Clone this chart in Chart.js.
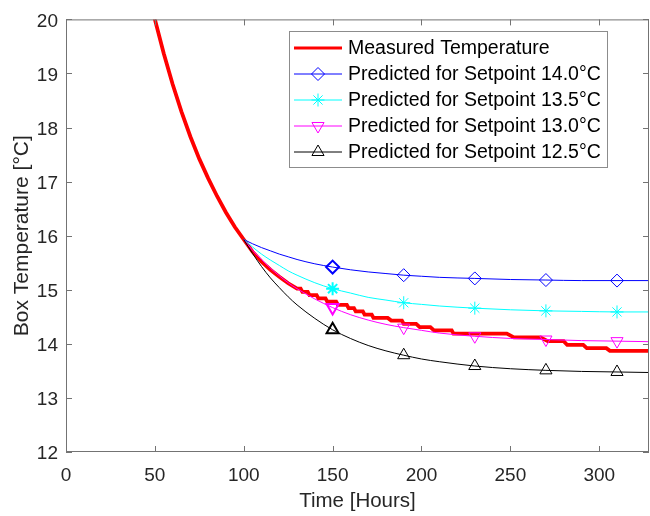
<!DOCTYPE html>
<html>
<head>
<meta charset="utf-8">
<script src="https://cdn.jsdelivr.net/npm/chart.js@4.4.1/dist/chart.umd.min.js"></script>
<style>
  html, body { margin: 0; padding: 0; background: #fff; }
  #wrap { width: 650px; height: 516px; position: relative; }
</style>
</head>
<body>
<div id="wrap"><canvas id="grafico_temperatura"></canvas></div>
<script>
// dados
const timeMeasured = [45, 50, 55, 60, 65, 70, 75, 80, 85, 90, 95, 100, 105, 110, 115, 120, 125, 130, 132, 133, 136, 137, 141, 142, 146, 147, 152, 153, 158, 159, 162, 163, 167, 168, 172, 173, 181, 183, 189, 190, 197, 199, 205, 207, 217, 218, 248, 252, 267, 271, 280, 282, 291, 293, 304, 306, 330];
const tempMeasured = [20.71, 20.00, 19.37, 18.80, 18.29, 17.83, 17.42, 17.06, 16.73, 16.43, 16.16, 15.93, 15.70, 15.52, 15.37, 15.24, 15.12, 15.02, 15.02, 14.96, 14.96, 14.90, 14.90, 14.84, 14.84, 14.78, 14.78, 14.72, 14.72, 14.66, 14.66, 14.60, 14.60, 14.54, 14.54, 14.48, 14.48, 14.43, 14.43, 14.37, 14.37, 14.31, 14.31, 14.25, 14.25, 14.19, 14.19, 14.12, 14.12, 14.05, 14.05, 13.98, 13.98, 13.92, 13.92, 13.87, 13.87];

const timePredicted = [100, 105, 110, 115, 120, 125, 130, 140, 150, 160, 170, 180, 190, 200, 210, 230, 250, 270, 290, 310, 328];
const pred140 = [15.93, 15.85, 15.78, 15.72, 15.66, 15.61, 15.56, 15.48, 15.42, 15.37, 15.33, 15.30, 15.27, 15.25, 15.23, 15.21, 15.19, 15.18, 15.17, 15.17, 15.17];
const pred135 = [15.93, 15.79, 15.66, 15.55, 15.45, 15.35, 15.27, 15.13, 15.02, 14.94, 14.86, 14.81, 14.76, 14.73, 14.70, 14.66, 14.63, 14.61, 14.60, 14.59, 14.59];
const pred130 = [15.93, 15.73, 15.56, 15.40, 15.26, 15.13, 15.02, 14.83, 14.67, 14.54, 14.44, 14.36, 14.30, 14.25, 14.20, 14.14, 14.10, 14.08, 14.06, 14.05, 14.04];
const pred125 = [15.93, 15.67, 15.43, 15.22, 15.04, 14.87, 14.72, 14.47, 14.26, 14.10, 13.97, 13.87, 13.79, 13.72, 13.67, 13.59, 13.54, 13.51, 13.49, 13.48, 13.47];

const markerTimes = [150, 190, 230, 270, 310];
const xTicks = [0, 50, 100, 150, 200, 250, 300];
const yTicks = [12, 13, 14, 15, 16, 17, 18, 19, 20];

const labels = ['Measured Temperature', 'Predicted for Setpoint 14.0°C', 'Predicted for Setpoint 13.5°C', 'Predicted for Setpoint 13.0°C', 'Predicted for Setpoint 12.5°C'];

const fonte = "'Liberation Sans', Arial, Helvetica, sans-serif";
const corTexto = '#262626';
const corEixo = '#737373';

const junta = (xs, ys) => xs.map((v, i) => ({x: v, y: ys[i]}));

const estilos = [
  {cor: '#ff0000', largura: 3.8, ponto: false},
  {cor: '#0000ff', largura: 1, ponto: 'rectRot', raio: 6.5, rot: 0},
  {cor: '#00ffff', largura: 1, ponto: 'star', raio: 6.5, rot: 0},
  {cor: '#ff00ff', largura: 1, ponto: 'triangle', raio: 7, rot: 180},
  {cor: '#000000', largura: 1, ponto: 'triangle', raio: 7, rot: 0}
];

const previstos = [pred140, pred135, pred130, pred125];

const datasets = [{
  label: labels[0],
  data: junta(timeMeasured, tempMeasured),
  borderColor: estilos[0].cor,
  borderWidth: estilos[0].largura,
  pointRadius: 0,
  tension: 0
}];

previstos.forEach((serie, k) => {
  const e = estilos[k + 1];
  datasets.unshift({
    label: labels[k + 1],
    data: junta(timePredicted, serie),
    borderColor: e.cor,
    borderWidth: e.largura,
    tension: 0.4,
    cubicInterpolationMode: 'monotone',
    pointStyle: e.ponto,
    pointRotation: e.rot,
    pointBorderColor: e.cor,
    pointBackgroundColor: 'rgba(0,0,0,0)',
    pointRadius: (ctx) => markerTimes.includes(timePredicted[ctx.dataIndex]) ? e.raio : 0,
    pointBorderWidth: (ctx) => timePredicted[ctx.dataIndex] === 150 ? 2 : 1,
    pointHoverRadius: 0
  });
});

// caixa dos eixos com ticks para dentro (estilo MATLAB)
const moldura = {
  id: 'moldura',
  afterDatasetsDraw(chart) {
    const {ctx, chartArea: a, scales: {x, y}} = chart;
    ctx.save();
    ctx.strokeStyle = corEixo;
    ctx.lineWidth = 1;
    ctx.strokeRect(a.left + 0.5, a.top + 0.5, a.right - a.left - 1, a.bottom - a.top - 1);
    ctx.beginPath();
    xTicks.forEach(v => {
      const px = Math.round(x.getPixelForValue(v)) + 0.5;
      ctx.moveTo(px, a.bottom); ctx.lineTo(px, a.bottom - 6);
      ctx.moveTo(px, a.top); ctx.lineTo(px, a.top + 6);
    });
    yTicks.forEach(v => {
      const py = Math.round(y.getPixelForValue(v)) + 0.5;
      ctx.moveTo(a.left, py); ctx.lineTo(a.left + 6, py);
      ctx.moveTo(a.right, py); ctx.lineTo(a.right - 6, py);
    });
    ctx.stroke();
    ctx.restore();
  }
};

function desenhaMarcador(ctx, e, x, y) {
  if (!e.ponto) return;
  const opts = {pointStyle: e.ponto, radius: e.raio, rotation: e.rot, borderWidth: 1};
  if (Chart.helpers && Chart.helpers.drawPoint) {
    Chart.helpers.drawPoint(ctx, opts, x, y);
  }
}

const legendaMatlab = {
  id: 'legendaMatlab',
  afterDraw(chart) {
    const ctx = chart.ctx;
    const box = {x: 289.5, y: 31.5, w: 318, h: 136};
    ctx.save();
    ctx.fillStyle = '#ffffff';
    ctx.fillRect(box.x, box.y, box.w, box.h);
    ctx.strokeStyle = '#8c8c8c';
    ctx.lineWidth = 1;
    ctx.strokeRect(box.x, box.y, box.w, box.h);
    ctx.font = '19.5px ' + fonte;
    ctx.textBaseline = 'middle';
    ctx.textAlign = 'left';
    labels.forEach((txt, i) => {
      const e = estilos[i];
      const yy = 48 + i * 26;
      ctx.strokeStyle = e.cor;
      ctx.lineWidth = i === 0 ? 3 : e.largura;
      ctx.beginPath();
      ctx.moveTo(294, yy); ctx.lineTo(342, yy);
      ctx.stroke();
      ctx.lineWidth = 1;
      ctx.fillStyle = 'rgba(0,0,0,0)';
      desenhaMarcador(ctx, e, 318, yy);
      ctx.fillStyle = '#000000';
      ctx.fillText(txt, 348, yy + 1);
    });
    ctx.restore();
  }
};

const graficoTemperatura = document.getElementById('grafico_temperatura');

new Chart(graficoTemperatura, {
  type: 'line',
  data: { datasets: datasets },
  options: {
    responsive: true,
    maintainAspectRatio: false,
    animation: false,
    events: [],
    layout: { padding: { top: 12, right: 1, left: 0, bottom: 0 } },
    plugins: { legend: { display: false }, tooltip: { enabled: false } },
    scales: {
      x: {
        type: 'linear',
        min: 0,
        max: 328,
        afterBuildTicks: (s) => { s.ticks = xTicks.map(v => ({value: v})); },
        afterFit: (s) => { s.height = 64; },
        grid: { display: false, drawTicks: false },
        border: { display: false },
        ticks: { color: corTexto, font: { family: fonte, size: 19 }, padding: 12, maxRotation: 0 },
        title: { display: true, text: 'Time [Hours]', color: corTexto, font: { family: fonte, size: 20.5 }, padding: { bottom: 2 } }
      },
      y: {
        min: 12,
        max: 20,
        afterBuildTicks: (s) => { s.ticks = yTicks.map(v => ({value: v})); },
        afterFit: (s) => { s.width = 66; },
        grid: { display: false, drawTicks: false },
        border: { display: false },
        ticks: { color: corTexto, font: { family: fonte, size: 19 }, padding: 8, labelOffset: 2 },
        title: { display: true, text: 'Box Temperature [°C]', color: corTexto, font: { family: fonte, size: 21 }, padding: { top: 10 } }
      }
    }
  },
  plugins: [moldura, legendaMatlab]
});
</script>
</body>
</html>
